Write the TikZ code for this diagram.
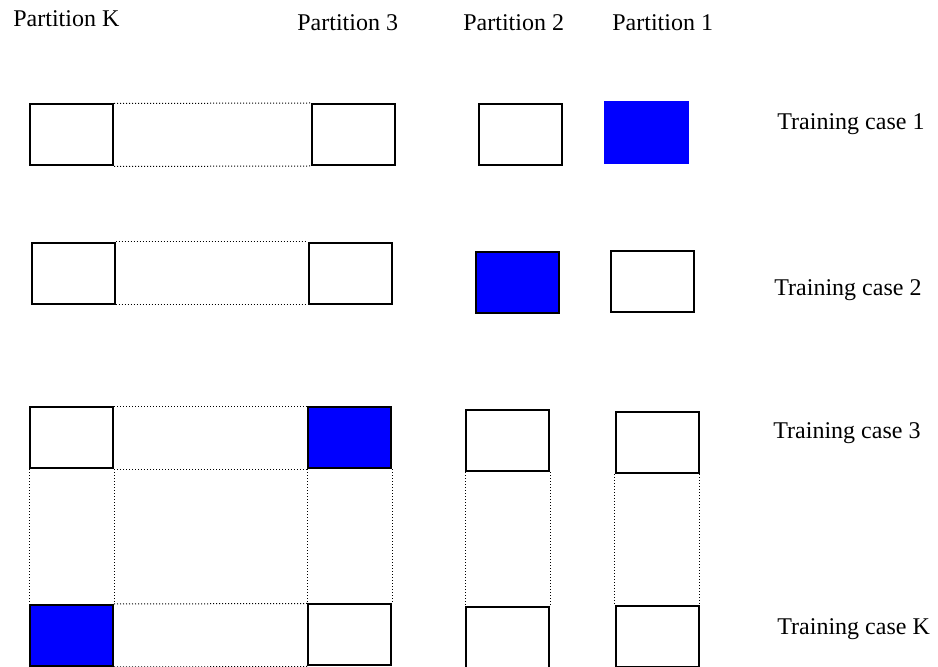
\documentclass[tikz,border=0pt]{standalone}
\usepackage{fontspec}
\setmainfont{Liberation Serif}
\usepackage{tikz}

\begin{document}
\begin{tikzpicture}[x=0.5pt,y=-0.5pt]
\tikzset{
	hollow box/.style = {rectangle, draw, line width=1pt, fill=white, inner sep=0, minimum width=41.5pt, minimum height=30.5pt},
	solid box/.style = {hollow box, fill=blue},
	gap line/.style = {densely dotted, line width=0.5pt},
	label/.style = {anchor=base west, inner sep=0, font=\fontsize{12}{14}\selectfont}
}
\useasboundingbox (0,0) rectangle (938,667);

% column headers
\node(partK)[label]at(13,27){Partition K};
\node(part3)[label]at(297,31){Partition 3};
\node(part2)[label]at(463,31){Partition 2};
\node(part1)[label]at(612,31){Partition 1};

% row names
\node(case1)[label]at(777,130){Training case 1};
\node(case2)[label]at(774,296){Training case 2};
\node(case3)[label]at(773,439){Training case 3};
\node(caseK)[label]at(777,635){Training case K};

% row 1
\node(pK-1)[hollow box]at(71.5,135){};
\node(p3-1)[hollow box]at(353,134.5){};
\node(p2-1)[hollow box]at(520,135){};
\node(p1-1)[solid box, draw=none, minimum width=42.5pt, minimum height=31.5pt]at(646.5,132.5){};

% row 2
\node(pK-2)[hollow box]at(73,273.5){};
\node(p3-2)[hollow box]at(350,273.5){};
\node(p2-2)[solid box]at(517,282.5){};
\node(p1-2)[hollow box]at(652,281.5){};

% row 3
\node(pK-3)[hollow box]at(71.5,438){};
\node(p3-3)[solid box]at(349.5,438){};
\node(p2-3)[hollow box]at(507.5,441){};
\node(p1-3)[hollow box]at(657,442.5){};

% row K
\node(pK-K)[solid box]at(71.5,635.5){};
\node(p3-K)[hollow box]at(349.5,635){};
\node(p2-K)[hollow box]at(507.5,637.5){};
\node(p1-K)[hollow box]at(657,636.5){};

% dotted gaps for the partitions and cases left out
\foreach \r in {1,2,3,K}{
	\draw[gap line](pK-\r.north east)--(p3-\r.north west);
	\draw[gap line](pK-\r.south east)--(p3-\r.south west);
}
\foreach \c in {K,3,2,1}{
	\draw[gap line](p\c-3.south west)--(p\c-K.north west);
	\draw[gap line](p\c-3.south east)--(p\c-K.north east);
}
\end{tikzpicture}
\end{document}
